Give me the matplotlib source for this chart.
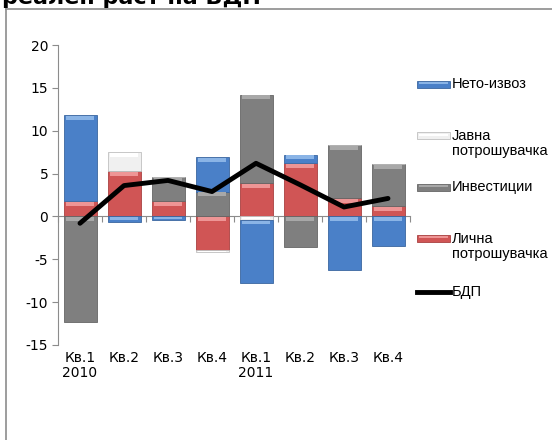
import matplotlib
matplotlib.use("Agg")
from matplotlib import pyplot as plt
from matplotlib.patches import Rectangle
from matplotlib.lines import Line2D
import numpy as np

# Data
quarters = ["Кв.1\n2010", "Кв.2", "Кв.3", "Кв.4", "Кв.1\n2011", "Кв.2", "Кв.3", "Кв.4"]
personal = [1.8, 5.3, 1.8, -3.9, 3.9, 6.2, 2.1, 1.2]
investment = [-12.3, 0.0, 2.8, 2.9, 10.3, -3.6, 6.2, 4.9]
public = [0.0, 2.2, 0.0, -0.3, -0.4, 0.0, 0.0, 0.0]
net_export = [10.0, -0.7, -0.4, 4.0, -7.4, 1.0, -6.2, -3.4]
gdp = [-0.8, 3.6, 4.2, 2.9, 6.2, 3.7, 1.1, 2.1]

series = [
    ("Лична\nпотрошувачка", personal, "#D05555", "#EE9595", "#A84040"),
    ("Инвестиции", investment, "#7F7F7F", "#A8A8A8", "#666666"),
    ("Јавна\nпотрошувачка", public, "#F0F0F0", "#FFFFFF", "#BFBFBF"),
    ("Нето-извоз", net_export, "#4A80C8", "#8AB4E6", "#3A66A0"),
]

plt.rcParams['font.family'] = ['DejaVu Sans']
plt.rcParams['axes.unicode_minus'] = False
fig = plt.figure(figsize=(5.52, 4.40), dpi=100)
ax = fig.add_axes([58/552, 1-345/440, 352/552, 300/440])
ax.patch.set_alpha(0)

x = np.arange(len(quarters))
w = 0.75
pos = np.zeros(len(x))
neg = np.zeros(len(x))
for name, vals, col, light, edge in series:
    vals = np.array(vals)
    bottoms = np.where(vals >= 0, pos, neg)
    ax.bar(x, vals, w, bottom=bottoms, color=col, edgecolor=edge, linewidth=0.6, zorder=2)
    # bevel highlight along the top of each segment
    tops = np.maximum(bottoms, bottoms + vals)
    band = np.minimum(0.45, np.abs(vals) * 0.5)
    ax.bar(x, band, w * 0.86, bottom=tops - band - 0.08, color=light, linewidth=0, zorder=3)
    pos = pos + np.where(vals >= 0, vals, 0)
    neg = neg + np.where(vals < 0, vals, 0)

ax.plot(x, gdp, color="black", lw=3.5, zorder=5, solid_capstyle="round")

ax.set_xlim(-0.5, len(x) - 0.5)
ax.set_ylim(-15, 20)
ax.set_yticks(range(-15, 21, 5))
ax.set_xticks(x)
ax.set_xticklabels(quarters, fontsize=10, linespacing=1.15)
ax.tick_params(axis="x", length=0, pad=4)
ax.tick_params(axis="y", labelsize=10, length=4, color="#8C8C8C", pad=3)
for s in ["top", "right", "bottom"]:
    ax.spines[s].set_visible(False)
ax.spines["left"].set_color("#8C8C8C")

# horizontal axis line at zero with category boundary ticks
sec = ax.secondary_xaxis(15 / 35)
sec.set_xticks(np.arange(len(x) + 1) - 0.5)
sec.tick_params(length=4, color="#8C8C8C", labelbottom=False, labeltop=False,
                direction="out", bottom=True, top=False)
sec.spines["top"].set_color("#8C8C8C")
sec.spines["bottom"].set_color("#8C8C8C")
sec.xaxis.set_ticks_position("bottom")
sec.set_xticklabels([])

# legend (Excel style: handle aligned with first line)
leg_font = "Liberation Sans"
leg_y = [85, 136, 188, 239, 292]
for i, (name, vals, col, light, edge) in enumerate(reversed(series)):
    y = 1 - leg_y[i] / 440
    fig.add_artist(Rectangle((417/552, y - 3.5/440), 33/552, 7/440, facecolor=col,
                             edgecolor=edge, linewidth=0.6, transform=fig.transFigure))
    fig.add_artist(Rectangle((419/552, y + 0.5/440), 29/552, 2/440, facecolor=light,
                             linewidth=0, transform=fig.transFigure))
    fig.text(452/552, y + 7.5/440, name, fontsize=10.5, family=leg_font,
             va="top", ha="left", linespacing=1.1)
y = 1 - leg_y[4] / 440
fig.add_artist(Line2D([417/552, 450/552], [y, y], color="black", lw=3.5,
                      transform=fig.transFigure))
fig.text(452/552, y, "БДП", fontsize=10.5, family=leg_font, va="center", ha="left")

# outer chart frame
fig.add_artist(Line2D([6/552, 6/552], [0, 1 - 9/440], color="#8C8C8C", lw=1.2,
                      transform=fig.transFigure))
fig.add_artist(Line2D([6/552, 1], [1 - 9/440, 1 - 9/440], color="#8C8C8C", lw=1.2,
                      transform=fig.transFigure))

# title (cut at the top edge, as in the source image)
fig.text(2/552, 1 - 4/440, "реален раст на БДП", fontsize=16, fontweight="bold",
         va="baseline", ha="left")

fig.savefig("out.png", dpi=100)
